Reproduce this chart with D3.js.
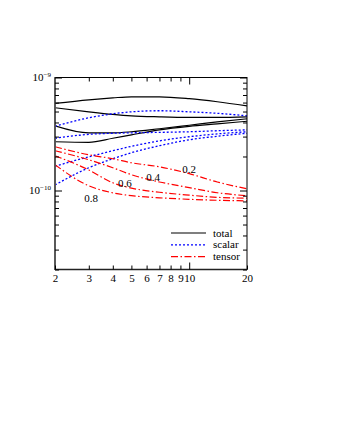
<!DOCTYPE html>
<html>
<head>
<meta charset="utf-8">
<script src="https://cdn.jsdelivr.net/npm/d3@7"></script>
<style>
  body { margin: 0; background: #fff; }
  text { font-family: "Liberation Serif", "Times New Roman", serif; }
</style>
</head>
<body>
<div id="chart"></div>
<script>
// x values shared by every curve
const xs = [2, 3, 4, 5, 7, 10, 14, 20];

// total (black solid), in units of 1e-10
const total1 = [5.9, 6.35, 6.6, 6.75, 6.75, 6.5, 6.1, 5.6];
const total2 = [5.4, 4.97, 4.72, 4.58, 4.49, 4.44, 4.44, 4.49];
const total3 = [3.74, 3.24, 3.24, 3.31, 3.52, 3.78, 4.05, 4.31];
const total4 = [2.70, 2.67, 2.90, 3.11, 3.44, 3.70, 3.89, 4.10];

// scalar (blue dotted)
const scalar1 = [3.70, 4.40, 4.77, 4.97, 5.08, 4.97, 4.82, 4.58];
const scalar2 = [2.90, 3.14, 3.21, 3.24, 3.27, 3.31, 3.38, 3.44];
const scalar3 = [1.64, 1.99, 2.25, 2.46, 2.75, 2.99, 3.17, 3.31];
const scalar4 = [1.12, 1.59, 1.91, 2.16, 2.49, 2.81, 3.02, 3.21];

// tensor (red dash-dot)
const tensor02 = [2.44, 2.07, 1.91, 1.76, 1.62, 1.41, 1.19, 1.035];
const tensor04 = [2.25, 1.87, 1.59, 1.38, 1.19, 1.06, 0.955, 0.90];
const tensor06 = [2.03, 1.52, 1.17, 1.05, 0.965, 0.91, 0.87, 0.855];
const tensor08 = [1.69, 1.10, 0.954, 0.90, 0.862, 0.836, 0.82, 0.81];

// labels on the tensor curves
const labelText = ["0.2", "0.4", "0.6", "0.8"];
const labelX = [10, 6.48, 4.63, 3.08];
const labelY = [1.44, 1.22, 1.07, 0.79];

const xTicks = [2, 3, 4, 5, 6, 7, 8, 9, 10, 20];
const xTickLabels = ["2", "3", "4", "5", "6", "7", "8", "9", "10", "20"];
const legendNames = ["total", "scalar", "tensor"];

const width = 337, height = 436;
const plot = {left: 55, right: 247, top: 77.5, bottom: 269.5};

let svg = d3.select("#chart")
    .append("svg")
    .attr("width", width)
    .attr("height", height)
    .style("background", "#fff");

let x = d3.scaleLog().domain([2, 20]).range([plot.left, plot.right]);
let y = d3.scaleLog().domain([2e-11, 1e-9]).range([plot.bottom, plot.top]);

const styles = {
    total:  {color: "#000000", dash: null,          width: 1.2},
    scalar: {color: "#0000ff", dash: "2,2",         width: 1.3},
    tensor: {color: "#ff0000", dash: "7,2.5,1.5,2.5", width: 1.2}
};

let series = [
    {kind: "total", vals: total1}, {kind: "total", vals: total2},
    {kind: "total", vals: total3}, {kind: "total", vals: total4},
    {kind: "scalar", vals: scalar1}, {kind: "scalar", vals: scalar2},
    {kind: "scalar", vals: scalar3}, {kind: "scalar", vals: scalar4},
    {kind: "tensor", vals: tensor02}, {kind: "tensor", vals: tensor04},
    {kind: "tensor", vals: tensor06}, {kind: "tensor", vals: tensor08}
];

let line = d3.line()
    .x(d => x(d[0]))
    .y(d => y(d[1] * 1e-10))
    .curve(d3.curveMonotoneX);

svg.append("defs").append("clipPath").attr("id", "clip")
    .append("rect")
    .attr("x", plot.left).attr("y", plot.top)
    .attr("width", plot.right - plot.left)
    .attr("height", plot.bottom - plot.top);

svg.append("g").attr("clip-path", "url(#clip)")
    .selectAll("path")
    .data(series)
    .enter()
    .append("path")
    .attr("d", d => line(xs.map((xv, i) => [xv, d.vals[i]])))
    .attr("fill", "none")
    .attr("stroke", d => styles[d.kind].color)
    .attr("stroke-width", d => styles[d.kind].width)
    .attr("stroke-dasharray", d => styles[d.kind].dash);

// frame
svg.append("rect")
    .attr("x", plot.left).attr("y", plot.top)
    .attr("width", plot.right - plot.left)
    .attr("height", plot.bottom - plot.top)
    .attr("fill", "none")
    .attr("stroke", "#000")
    .attr("stroke-width", 1);
svg.append("line")
    .attr("x1", plot.left).attr("x2", plot.left)
    .attr("y1", plot.top).attr("y2", plot.bottom + 0.5)
    .attr("stroke", "#555").attr("stroke-width", 1.8);
svg.append("line")
    .attr("x1", plot.left).attr("x2", plot.right)
    .attr("y1", plot.bottom).attr("y2", plot.bottom)
    .attr("stroke", "#222").attr("stroke-width", 1.4);

// x ticks (bottom + top), pointing inward
let xg = svg.append("g").attr("transform", "translate(0," + plot.bottom + ")")
    .call(d3.axisBottom(x).tickValues(xTicks).tickSize(-4).tickPadding(5)
        .tickFormat((d, i) => xTickLabels[i]));
xg.select(".domain").remove();
xg.selectAll(".tick line")
    .attr("stroke", "#000")
    .attr("y2", d => (d === 10 ? -7 : -4));
xg.selectAll(".tick text")
    .attr("fill", "#000")
    .style("font-family", "'Liberation Serif', serif")
    .style("font-size", "11px");

let xt = svg.append("g").attr("transform", "translate(0," + plot.top + ")")
    .call(d3.axisTop(x).tickValues(xTicks.filter(d => d !== 2 && d !== 20)).tickSize(-4).tickFormat(""));
xt.select(".domain").remove();
xt.selectAll(".tick line").attr("stroke", "#000").attr("y2", d => (d === 10 ? 7 : 4));

// y ticks: minors 2..9 in each decade plus majors
let yTicks = [];
[1e-11, 1e-10].forEach(dec => {
    for (let k = 2; k <= 9; k++) yTicks.push(k * dec);
});
yTicks = yTicks.filter(v => v >= 2e-11 * 0.999);
const yMajors = [1e-10, 1e-9];
yTicks = yTicks.concat(yMajors);

let yl = svg.append("g").attr("transform", "translate(" + plot.left + ",0)")
    .call(d3.axisLeft(y).tickValues(yTicks).tickSize(-4).tickFormat(""));
yl.select(".domain").remove();
yl.selectAll(".tick line").attr("stroke", "#000")
    .attr("x2", d => (yMajors.includes(d) ? 7 : 4));

let yr = svg.append("g").attr("transform", "translate(" + plot.right + ",0)")
    .call(d3.axisRight(y).tickValues(yTicks).tickSize(-4).tickFormat(""));
yr.select(".domain").remove();
yr.selectAll(".tick line").attr("stroke", "#000")
    .attr("x2", d => (yMajors.includes(d) ? -7 : -4));

// y major labels as 10^n
yMajors.forEach(v => {
    let t = svg.append("text")
        .attr("x", plot.left - 4)
        .attr("y", y(v) + 3.5)
        .style("text-anchor", "end")
        .style("font-size", "11px")
        .attr("fill", "#000");
    t.append("tspan").text("10");
    t.append("tspan").attr("dy", -4).style("font-size", "7px")
        .text("\u2212" + Math.round(-Math.log10(v)));
});

// curve labels
svg.append("g").selectAll("text")
    .data(labelText)
    .enter()
    .append("text")
    .attr("x", (d, i) => x(labelX[i]))
    .attr("y", (d, i) => y(labelY[i] * 1e-10))
    .style("text-anchor", "middle")
    .style("font-size", "11px")
    .attr("fill", "#000")
    .text(d => d);

// legend
let legend = svg.append("g");
legendNames.forEach((name, i) => {
    let ly = 233 + i * 11.8;
    legend.append("line")
        .attr("x1", 171).attr("x2", 206)
        .attr("y1", ly).attr("y2", ly)
        .attr("stroke", styles[name].color)
        .attr("stroke-width", styles[name].width)
        .attr("stroke-dasharray", styles[name].dash);
    legend.append("text")
        .attr("x", 213).attr("y", ly + 3.5)
        .style("font-size", "11px")
        .attr("fill", "#000")
        .text(name);
});
</script>
</body>
</html>
